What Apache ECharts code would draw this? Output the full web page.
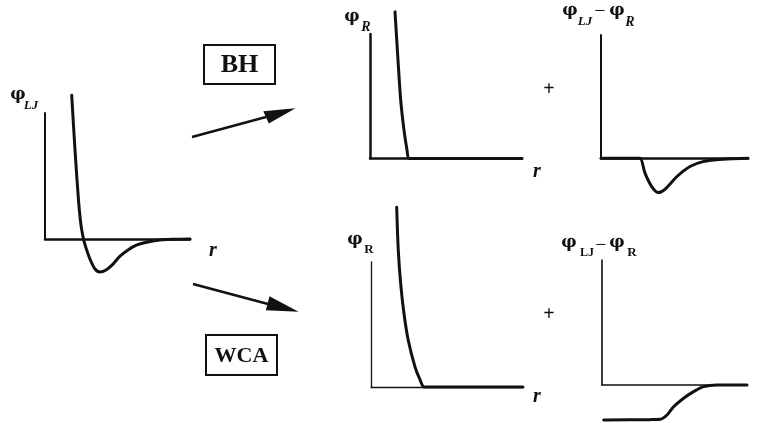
<!DOCTYPE html>
<html>
<head>
<meta charset="utf-8">
<script src="https://cdn.jsdelivr.net/npm/echarts@6/dist/echarts.min.js"></script>
<style>
  html, body { margin: 0; padding: 0; background: #fff; }
  #chart { width: 766px; height: 423px; }
</style>
</head>
<body>
<div id="chart"></div>
<script>
// Pair potentials in reduced units: r in tenths of the panel width scale, phi in units of epsilon.
// Full Lennard-Jones potential.
const ljCurve = [
  [2.67, 4.36], [3.0, 2.70], [3.35, 1.18], [3.6, 0.42], [3.85, 0.0],
  [4.1, -0.27], [4.5, -0.61], [5.0, -0.91], [5.5, -1.0], [6.1, -0.94],
  [6.8, -0.76], [7.5, -0.52], [8.3, -0.33], [9.2, -0.18], [10.3, -0.09],
  [11.5, -0.03], [12.7, -0.01], [14.5, 0.0]
];
// Barker-Henderson split: repulsive part (r < sigma) and the remainder.
const bhRepulsive = [
  [2.5, 4.44], [2.8, 2.98], [3.07, 1.77], [3.4, 0.86], [3.7, 0.26],
  [3.9, 0.0], [4.6, 0.0], [15.2, 0.0]
];
const bhPerturbation = [
  [0.0, 0.0], [3.4, 0.0], [3.9, 0.0], [4.4, -0.45], [5.07, -0.86], [5.73, -1.04],
  [6.4, -0.94], [7.57, -0.56], [8.9, -0.25], [10.2, -0.10], [12.2, -0.03],
  [14.7, 0.0]
];
// Weeks-Chandler-Andersen split: shifted repulsion up to r_min and the remainder.
const wcaRepulsive = [
  [2.57, 5.45], [2.73, 4.14], [2.97, 3.13], [3.3, 2.22], [3.73, 1.41],
  [4.4, 0.61], [4.9, 0.22], [5.33, 0.0], [6.2, 0.0], [15.2, 0.0]
];
const wcaPerturbation = [
  [0.17, -1.06], [4.8, -1.05], [5.83, -1.04], [6.5, -0.91], [7.16, -0.66], [8.16, -0.40],
  [9.16, -0.20], [10.16, -0.05], [11.5, 0.0], [14.5, 0.0]
];

const SERIF = '"Liberation Serif", "DejaVu Serif", serif';
const PHI_FONT = '"DejaVu Serif", serif';
const INK = '#111';

// Panel frames: grid box, axis extents and axis stroke widths.
const panels = [
  { box: { left: 45,  top: 113, width: 145, height: 126 },   xMax: 14.5, yMax: 3.82, xw: 2.5, yw: 2,   data: ljCurve },
  { box: { left: 370, top: 34,  width: 152, height: 124.5 }, xMax: 15.2, yMax: 3.77, xw: 2.5, yw: 2.5, data: bhRepulsive },
  { box: { left: 601, top: 35,  width: 147, height: 123.3 }, xMax: 14.7, yMax: 3.74, xw: 2.5, yw: 2,   data: bhPerturbation },
  { box: { left: 371, top: 262, width: 152, height: 125 },   xMax: 15.2, yMax: 3.79, xw: 1.3, yw: 1.3, data: wcaRepulsive },
  { box: { left: 602, top: 260, width: 145, height: 125 },   xMax: 14.5, yMax: 3.79, xw: 1.6, yw: 1.6, data: wcaPerturbation }
];

const grid = panels.map(p => Object.assign({ containLabel: false }, p.box));
const bare = { axisTick: { show: false }, axisLabel: { show: false }, splitLine: { show: false } };
const xAxis = panels.map((p, i) => Object.assign({
  type: 'value', gridIndex: i, min: 0, max: p.xMax,
  axisLine: { show: true, onZero: false, lineStyle: { color: INK, width: p.xw } }
}, bare));
const yAxis = panels.map((p, i) => Object.assign({
  type: 'value', gridIndex: i, min: 0, max: p.yMax,
  axisLine: { show: true, onZero: false, lineStyle: { color: INK, width: p.yw } }
}, bare));
const series = panels.map((p, i) => ({
  type: 'line', xAxisIndex: i, yAxisIndex: i, data: p.data,
  smooth: 0.3, showSymbol: false, clip: false, silent: true,
  lineStyle: { color: INK, width: 3, cap: 'round', join: 'round' }
}));

// Text pieces: [text, centre x, centre y, size, weight, style, family]
const P = PHI_FONT, S = SERIF;
const textPieces = [
  ['φ', 18, 95, 17, 'bold', 'normal', P], ['LJ', 31, 106, 13, 'bold', 'italic', S],
  ['φ', 352, 17, 17, 'bold', 'normal', P], ['R', 366, 27, 14, 'bold', 'italic', S],
  ['φ', 570, 11, 17, 'bold', 'normal', P], ['LJ', 585, 22, 13, 'bold', 'italic', S],
  ['−', 600, 12, 20, 'normal', 'normal', S],
  ['φ', 617, 11, 17, 'bold', 'normal', P], ['R', 630, 22, 14, 'bold', 'italic', S],
  ['φ', 355, 240, 17, 'bold', 'normal', P], ['R', 369, 250, 13, 'bold', 'normal', S],
  ['φ', 569, 243, 17, 'bold', 'normal', P], ['LJ', 587, 253, 12, 'bold', 'normal', S],
  ['−', 601, 246, 20, 'normal', 'normal', S],
  ['φ', 617, 243, 17, 'bold', 'normal', P], ['R', 632, 253, 13, 'bold', 'normal', S],
  ['r', 213, 251, 20, 'bold', 'italic', S], ['r', 537, 172, 20, 'bold', 'italic', S],
  ['r', 537, 397, 20, 'bold', 'italic', S],
  ['+', 549, 90, 20, 'bold', 'normal', S], ['+', 549, 315, 20, 'bold', 'normal', S]
];

const graphic = textPieces.map(t => ({
  type: 'text', silent: true,
  style: {
    text: t[0], x: t[1], y: t[2], fill: INK, align: 'center', verticalAlign: 'middle',
    font: t[5] + ' ' + t[4] + ' ' + t[3] + 'px ' + t[6]
  }
}));

// Method boxes
[['BH', 204, 45, 71, 39, 26], ['WCA', 206, 335, 71, 40, 22]].forEach(b => {
  graphic.push({ type: 'rect', silent: true, shape: { x: b[1], y: b[2], width: b[3], height: b[4] },
    style: { fill: 'none', stroke: INK, lineWidth: 2 } });
  graphic.push({ type: 'text', silent: true, style: {
    text: b[0], x: b[1] + b[3] / 2, y: b[2] + b[4] / 2 + 1, fill: INK, align: 'center', verticalAlign: 'middle',
    font: 'bold ' + b[5] + 'px ' + SERIF } });
});

// Arrows from the full potential to each split
[
  { from: [192, 137], base: [266, 117], tip: [295.5, 108.3], wings: [[263.3, 111.2], [268.8, 123.5]] },
  { from: [193, 284], base: [268, 304], tip: [298.5, 311.8], wings: [[269.5, 296.2], [265.8, 310.3]] }
].forEach(a => {
  graphic.push({ type: 'line', silent: true, shape: { x1: a.from[0], y1: a.from[1], x2: a.base[0], y2: a.base[1] },
    style: { stroke: INK, lineWidth: 2.4 } });
  graphic.push({ type: 'polygon', silent: true, shape: { points: [a.tip, a.wings[0], a.wings[1]] },
    style: { fill: INK } });
});

const chart = echarts.init(document.getElementById('chart'), null, { renderer: 'canvas' });
chart.setOption({
  backgroundColor: '#fff',
  animation: false,
  grid, xAxis, yAxis, series, graphic
});
</script>
</body>
</html>
